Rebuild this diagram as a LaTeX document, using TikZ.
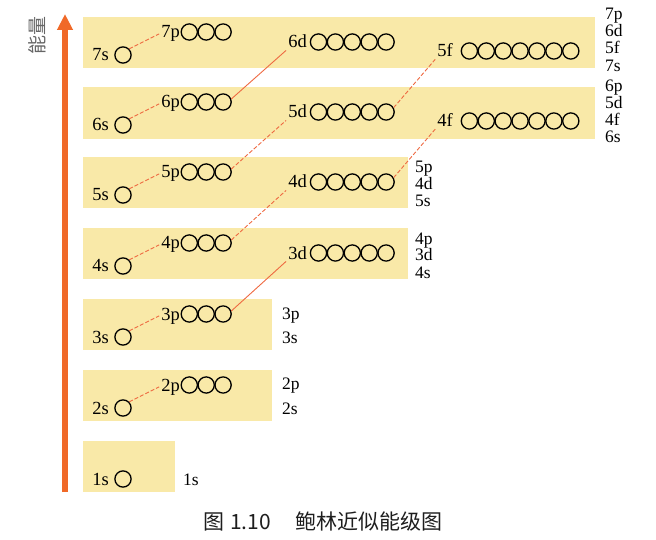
\documentclass[tikz,border=0pt]{standalone}
\usepackage{fontspec}
\setmainfont{Liberation Serif}
\newfontfamily\cjk{Noto Sans CJK SC}
\usetikzlibrary{arrows.meta}
\definecolor{boxy}{RGB}{249,233,168}
\definecolor{arr}{RGB}{240,105,40}
\definecolor{conn}{RGB}{238,105,65}
\definecolor{capgray}{RGB}{30,30,30}
\newcommand\orbset[6]{%
  \node[lab] (l#1) at (#3,#5+6) {#2};
  \foreach \k in {1,...,#6} {\node[orb] (c#1\k) at ({#4+(\k-1)*16.9},#5) {};}
}
\newcommand\rl[4]{\node[rlab] (#1) at (#2,#3) {#4};}
\begin{document}
\begin{tikzpicture}[x=1pt,y=-1pt,
  orb/.style={circle, draw=black, line width=1.3pt, minimum size=16.2pt, inner sep=0pt},
  lab/.style={font=\fontsize{18.5}{18.5}\selectfont, inner sep=2pt, anchor=base east},
  rlab/.style={font=\fontsize{17.5}{17.5}\selectfont, inner sep=0pt, anchor=base west},
  link/.style={draw=conn, line width=0.9pt},
  dlink/.style={link, dash pattern=on 4pt off 2pt},
  captext/.style={font=\cjk\fontsize{21}{21}\selectfont, text=capgray, anchor=base west, inner sep=0pt},
]
\useasboundingbox (0,0) rectangle (656,540);
% level boxes
\fill[boxy] (83,17) rectangle (595,68);
\fill[boxy] (83,87) rectangle (595,139);
\fill[boxy] (83,157) rectangle (408,208);
\fill[boxy] (83,228) rectangle (408,279);
\fill[boxy] (83,299) rectangle (272,350);
\fill[boxy] (83,370) rectangle (272,421);
\fill[boxy] (83,441) rectangle (175,492);
% energy axis
\coordinate (axbot) at (65,492);
\coordinate (axtop) at (65,14);
\draw[arr, line width=5.5pt, -{Triangle[length=16pt,width=15pt]}] (axbot) -- (axtop);
\node[rotate=90, font=\cjk\fontsize{19}{19}\selectfont, text=gray!80!black, inner sep=0pt] (energy) at (37,36) {能量};
% orbitals: name, text, label east x, first circle x, y, count
% row 7
\orbset{7s}{7s}{111}{123}{55}{1}
\orbset{7p}{7p}{182}{189.3}{32}{3}
\orbset{6d}{6d}{309}{318.5}{42}{5}
\orbset{5f}{5f}{455}{469.4}{51}{7}
% row 6
\orbset{6s}{6s}{111}{123}{125}{1}
\orbset{6p}{6p}{182}{189.3}{102}{3}
\orbset{5d}{5d}{309}{318.5}{112}{5}
\orbset{4f}{4f}{455}{469.4}{121}{7}
% row 5
\orbset{5s}{5s}{111}{123}{195}{1}
\orbset{5p}{5p}{182}{189.3}{172}{3}
\orbset{4d}{4d}{309}{318.5}{182}{5}
% row 4
\orbset{4s}{4s}{111}{123}{266}{1}
\orbset{4p}{4p}{182}{189.3}{243}{3}
\orbset{3d}{3d}{309}{318.5}{253}{5}
% row 3
\orbset{3s}{3s}{111}{123}{337}{1}
\orbset{3p}{3p}{182}{189.3}{314}{3}
% row 2
\orbset{2s}{2s}{111}{123}{408}{1}
\orbset{2p}{2p}{182}{189.3}{385}{3}
% row 1
\orbset{1s}{1s}{111}{123}{479}{1}
% connectors
\foreach \n in {2,...,7} {\draw[dlink] (c\n s1.north east) -- (l\n p.west);}
\draw[link] (c3p3.20) -- (l3d.south west);
\draw[dlink] (c4p3.20) -- (l4d.south west);
\draw[dlink] (c5p3.20) -- (l5d.south west);
\draw[link] (c6p3.20) -- (l6d.south west);
\draw[dlink] (c4d5.30) -- (l4f.south west);
\draw[dlink] (c5d5.30) -- (l5f.south west);
% right-hand level labels
\rl{r7a}{605}{20}{7p}\rl{r7b}{605}{37}{6d}\rl{r7c}{605}{54}{5f}\rl{r7d}{605}{72}{7s}
\rl{r6a}{605}{92}{6p}\rl{r6b}{605}{109}{5d}\rl{r6c}{605}{126}{4f}\rl{r6d}{605}{143}{6s}
\rl{r5a}{415}{173}{5p}\rl{r5b}{415}{190}{4d}\rl{r5c}{415}{207}{5s}
\rl{r4a}{415}{244}{4p}\rl{r4b}{415}{261}{3d}\rl{r4c}{415}{278}{4s}
\rl{r3a}{282}{319}{3p}\rl{r3b}{282}{343}{3s}
\rl{r2a}{282}{389}{2p}\rl{r2b}{282}{414}{2s}
\rl{r1a}{183}{485}{1s}
% caption
\node[captext] (capA) at (203,529) {图};
\node[captext] (capB) at (230,529) {1.10};
\node[captext] (capC) at (295,529) {鲍林近似能级图};
\end{tikzpicture}
\end{document}
